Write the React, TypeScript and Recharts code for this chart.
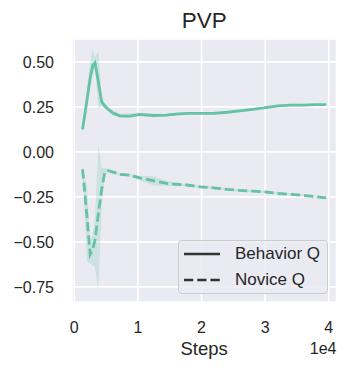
import { ComposedChart, Line, Area, XAxis, YAxis, CartesianGrid, Legend } from 'recharts'

const steps = [1300, 2000, 2500, 2900, 3250, 3800, 4300, 4800, 5300, 6100, 7200, 8700, 10300, 12400, 14500, 16000, 17700, 19800, 21900, 24000, 26000, 28000, 29800, 32000, 34000, 36000, 38000, 39600]

const behaviorQ = [0.125, 0.29, 0.41, 0.48, 0.495, 0.385, 0.278, 0.255, 0.238, 0.215, 0.2, 0.199, 0.208, 0.202, 0.204, 0.21, 0.214, 0.214, 0.214, 0.22, 0.228, 0.236, 0.244, 0.256, 0.26, 0.26, 0.262, 0.262]
const behaviorLo = [0.11, 0.23, 0.35, 0.42, 0.47, 0.24, 0.25, 0.24, 0.225, 0.2, 0.19, 0.19, 0.198, 0.192, 0.196, 0.203, 0.207, 0.207, 0.207, 0.213, 0.221, 0.229, 0.237, 0.249, 0.253, 0.253, 0.255, 0.255]
const behaviorHi = [0.14, 0.36, 0.5, 0.57, 0.53, 0.56, 0.3, 0.27, 0.25, 0.23, 0.21, 0.215, 0.218, 0.212, 0.212, 0.217, 0.221, 0.221, 0.221, 0.227, 0.235, 0.243, 0.251, 0.263, 0.267, 0.267, 0.269, 0.269]

const noviceQ = [-0.097, -0.36, -0.57, -0.54, -0.49, -0.34, -0.21, -0.112, -0.105, -0.113, -0.125, -0.129, -0.145, -0.16, -0.175, -0.18, -0.184, -0.194, -0.2, -0.208, -0.214, -0.218, -0.222, -0.23, -0.236, -0.242, -0.249, -0.255]
const noviceLo = [-0.12, -0.61, -0.62, -0.63, -0.64, -0.775, -0.3, -0.13, -0.115, -0.122, -0.133, -0.137, -0.16, -0.185, -0.19, -0.188, -0.191, -0.201, -0.207, -0.215, -0.221, -0.225, -0.229, -0.237, -0.243, -0.249, -0.256, -0.262]
const noviceHi = [-0.08, -0.19, -0.5, -0.45, -0.36, 0.05, -0.09, -0.09, -0.095, -0.104, -0.117, -0.121, -0.132, -0.135, -0.16, -0.172, -0.177, -0.187, -0.193, -0.201, -0.207, -0.211, -0.215, -0.223, -0.229, -0.235, -0.242, -0.248]

const xTicks = [0, 10000, 20000, 30000, 40000]
const yTicks = [-0.75, -0.5, -0.25, 0, 0.25, 0.5]

const legendItems = [
  { label: 'Behavior Q', dash: undefined },
  { label: 'Novice Q', dash: '9.25 4' },
]

const COLOR = '#66c2a5'
const FONT = '"Liberation Sans", Arial, sans-serif'
const TEXT = '#262626'

const data = steps.map((s, i) => ({
  step: s,
  behavior: behaviorQ[i],
  behaviorBand: [behaviorLo[i], behaviorHi[i]],
  novice: noviceQ[i],
  noviceBand: [noviceLo[i], noviceHi[i]],
}))

function LegendBox() {
  return (
    <div
      style={{
        position: 'relative',
        width: 150,
        height: 54,
        boxSizing: 'border-box',
        border: '1px solid #cccccc',
        borderRadius: 4,
        background: 'rgba(234,234,242,0.8)',
        fontFamily: FONT,
        fontSize: 17,
        color: TEXT,
      }}
    >
      {legendItems.map((item, i) => (
        <div
          key={item.label}
          style={{ position: 'absolute', left: 5, top: i * 26, height: 26, display: 'flex', alignItems: 'center' }}
        >
          <svg width={36} height={10} style={{ marginRight: 15 }}>
            <line x1={0} y1={5} x2={36} y2={5} stroke="#333333" strokeWidth={2.7} strokeDasharray={item.dash} />
          </svg>
          <span style={{ whiteSpace: 'nowrap' }}>{item.label}</span>
        </div>
      ))}
    </div>
  )
}

export default function App() {
  return (
    <div style={{ position: 'absolute', left: 0, top: 0, width: 349, height: 370, background: '#fff' }}>
      <ComposedChart width={349} height={370} data={data} margin={{ top: 39, right: 12.5, bottom: 0, left: 0 }}>
        <CartesianGrid stroke="#ffffff" strokeWidth={1.6} fill="#EAEAF2" fillOpacity={1} />
        <XAxis
          dataKey="step"
          type="number"
          domain={[-360, 41220]}
          allowDataOverflow
          ticks={xTicks}
          tickFormatter={(v: number) => String(v / 10000)}
          axisLine={false}
          tickLine={false}
          tickSize={0}
          tickMargin={19.5}
          height={68}
          tick={{ fill: TEXT, fontSize: 16, fontFamily: FONT }}
        />
        <YAxis
          type="number"
          domain={[-0.834, 0.627]}
          allowDataOverflow
          ticks={yTicks}
          tickFormatter={(v: number) => (v < 0 ? '\u2212' : '') + Math.abs(v).toFixed(2)}
          axisLine={false}
          tickLine={false}
          tickSize={0}
          tickMargin={18}
          width={72}
          tick={{ fill: TEXT, fontSize: 16, fontFamily: FONT }}
        />
        <Area dataKey="behaviorBand" type="linear" stroke="none" fill={COLOR} fillOpacity={0.22} isAnimationActive={false} legendType="none" />
        <Area dataKey="noviceBand" type="linear" stroke="none" fill={COLOR} fillOpacity={0.22} isAnimationActive={false} legendType="none" />
        <Line dataKey="behavior" type="linear" stroke={COLOR} strokeWidth={2.8} dot={false} isAnimationActive={false} />
        <Line dataKey="novice" type="linear" stroke={COLOR} strokeWidth={2.8} strokeDasharray="9.25 4" dot={false} isAnimationActive={false} />
        <Legend
          layout="horizontal"
          verticalAlign="middle"
          align="center"
          width={150}
          height={54}
          wrapperStyle={{ position: 'absolute', left: 178, top: 240, width: 150, height: 54 }}
          content={() => <LegendBox />}
        />
      </ComposedChart>
      <svg width={349} height={370} style={{ position: 'absolute', left: 0, top: 0, pointerEvents: 'none' }}>
        <text x={204.3} y={28.3} textAnchor="middle" fontFamily={FONT} fontSize={22.5} fill={TEXT}>PVP</text>
        <text x={204.2} y={355} textAnchor="middle" fontFamily={FONT} fontSize={18.5} fill={TEXT}>Steps</text>
        <text x={336.5} y={354} textAnchor="end" fontFamily={FONT} fontSize={16} fill={TEXT}>1e4</text>
      </svg>
    </div>
  )
}
